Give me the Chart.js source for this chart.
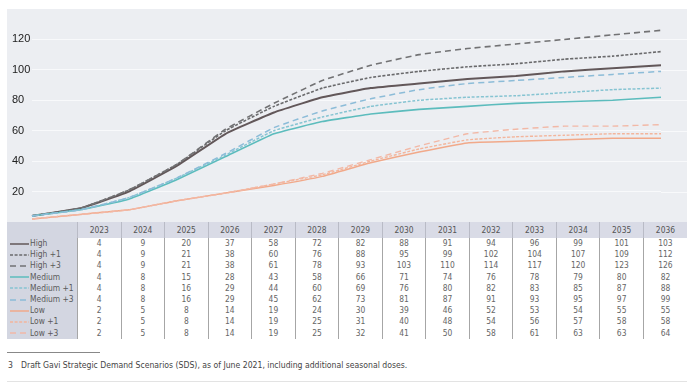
<!DOCTYPE html>
<html>
<head>
<meta charset="utf-8">
<script src="https://cdn.jsdelivr.net/npm/chart.js@4"></script>
<style>
  html, body { margin:0; padding:0; background:#fff; }
  body { width:696px; height:383px; position:relative; overflow:hidden; font-family:"Liberation Sans Narrow","DejaVu Sans Condensed",sans-serif; }
  #panel { position:absolute; left:7px; top:9px; width:680px; height:213px; background:#eceef2; }
  #c { position:absolute; left:0; top:0; }
  table { position:absolute; left:7px; top:222px; width:680px; border-collapse:collapse; table-layout:fixed; font-size:8.4px; color:#666; }
  th, td { padding:0; text-align:center; }
  thead th { height:16px; background:#d9dbe6; font-weight:normal; color:#555; border-left:1px solid #b9bbc6; }
  thead th.lab { background:#d3d6e1; border-left:none; }
  tbody td { height:11.2px; line-height:11.2px; border-left:1px solid #a6a6a6; background:#fff; }
  tbody td.lab { background:#d3d6e1; border-left:none; text-align:left; white-space:nowrap; color:#5a5a5a; }
  td.lab svg { vertical-align:middle; margin-left:3px; margin-right:1px; }
  #fnline { position:absolute; left:7px; top:352px; width:93px; height:1px; background:#888; }
  #fn { position:absolute; left:8px; top:360px; font-size:8.6px; color:#444; white-space:nowrap; }
  #fn span { display:inline-block; width:13px; }
  #bot { position:absolute; left:7px; top:381px; width:680px; height:1px; background:#e3e3e3; }
</style>
</head>
<body>
<div id="panel"><canvas id="c" width="680" height="213"></canvas></div>
<table id="tbl"><thead><tr id="hdr"></tr></thead><tbody id="body"></tbody></table>
<div id="fnline"></div>
<div id="fn"><span>3</span>Draft Gavi Strategic Demand Scenarios (SDS), as of June 2021, including additional seasonal doses.</div>
<div id="bot"></div>
<script>
// ---- data ----
const years   = [2023,2024,2025,2026,2027,2028,2029,2030,2031,2032,2033,2034,2035,2036];
const high    = [4,9,20,37,58,72,82,88,91,94,96,99,101,103];
const high1   = [4,9,21,38,60,76,88,95,99,102,104,107,109,112];
const high3   = [4,9,21,38,61,78,93,103,110,114,117,120,123,126];
const medium  = [4,8,15,28,43,58,66,71,74,76,78,79,80,82];
const medium1 = [4,8,16,29,44,60,69,76,80,82,83,85,87,88];
const medium3 = [4,8,16,29,45,62,73,81,87,91,93,95,97,99];
const low     = [2,5,8,14,19,24,30,39,46,52,53,54,55,55];
const low1    = [2,5,8,14,19,25,31,40,48,54,56,57,58,58];
const low3    = [2,5,8,14,19,25,32,41,50,58,61,63,63,64];
const seriesNames = ["High","High +1","High +3","Medium","Medium +1","Medium +3","Low","Low +1","Low +3"];
const yTicks = [20,40,60,80,100,120];

// ---- styles ----
const seriesData = [high, high1, high3, medium, medium1, medium3, low, low1, low3];
const styles = [
  {c:"#625759", w:2,   d:[]},
  {c:"#6a6a6c", w:1.6, d:[3,1.6]},
  {c:"#727274", w:1.6, d:[6,4]},
  {c:"#5cbcbd", w:1.6, d:[]},
  {c:"#86c4d2", w:1.5, d:[3,1.6]},
  {c:"#8cbcd8", w:1.5, d:[6,4]},
  {c:"#f1a98a", w:1.5, d:[]},
  {c:"#f3b59c", w:1.4, d:[3,1.6]},
  {c:"#f2b8a6", w:1.4, d:[6,4]}
];

// ---- table ----
const hdr = document.getElementById('hdr');
let h = '<th class="lab" style="width:70px"></th>';
years.forEach(y => { h += '<th>' + y + '</th>'; });
hdr.innerHTML = h;
const body = document.getElementById('body');
let b = '';
seriesNames.forEach((n, i) => {
  const s = styles[i];
  const dash = s.d.length ? ' stroke-dasharray="' + s.d.join(',') + '"' : '';
  b += '<tr><td class="lab"><svg width="19" height="4"><line x1="0" y1="2" x2="19" y2="2" stroke="' + s.c + '" stroke-width="1.5"' + dash + '/></svg>' + n + '</td>';
  seriesData[i].forEach(v => { b += '<td>' + v + '</td>'; });
  b += '</tr>';
});
body.innerHTML = b;

// ---- chart ----
const extendGrid = {
  id: 'extendGrid',
  beforeDatasetsDraw(chart) {
    const ctx = chart.ctx, ys = chart.scales.y, a = chart.chartArea;
    ctx.save();
    ctx.strokeStyle = '#f8f9fb';
    ctx.lineWidth = 1;
    yTicks.forEach(t => {
      const py = Math.round(ys.getPixelForValue(t)) + 0.5;
      ctx.beginPath(); ctx.moveTo(a.right, py); ctx.lineTo(chart.width, py); ctx.stroke();
    });
    ctx.restore();
  }
};

new Chart(document.getElementById('c'), {
  type: 'line',
  data: {
    labels: years,
    datasets: seriesNames.map((n, i) => ({
      label: n,
      data: seriesData[i],
      borderColor: styles[i].c,
      borderWidth: styles[i].w,
      borderDash: styles[i].d,
      pointRadius: 0,
      tension: 0.1,
      fill: false
    })).reverse()
  },
  options: {
    responsive: false,
    animation: false,
    devicePixelRatio: 1,
    layout: { padding: { left: 5, right: 26, top: 0, bottom: 0 } },
    plugins: { legend: { display: false }, tooltip: { enabled: false } },
    scales: {
      x: { display: false, offset: false },
      y: {
        min: 0, max: 140,
        afterFit(s) { s.width = 20; s.paddingTop = 0; s.paddingBottom = 0; },
        afterBuildTicks(s) { s.ticks = yTicks.map(v => ({ value: v })); },
        ticks: {
          crossAlign: 'far', padding: 0,
          color: '#222',
          font: { family: '"Liberation Sans Narrow", sans-serif', size: 11 }
        },
        grid: { color: '#f8f9fb', lineWidth: 1, drawTicks: false },
        border: { display: false }
      }
    }
  },
  plugins: [extendGrid]
});
</script>
</body>
</html>
